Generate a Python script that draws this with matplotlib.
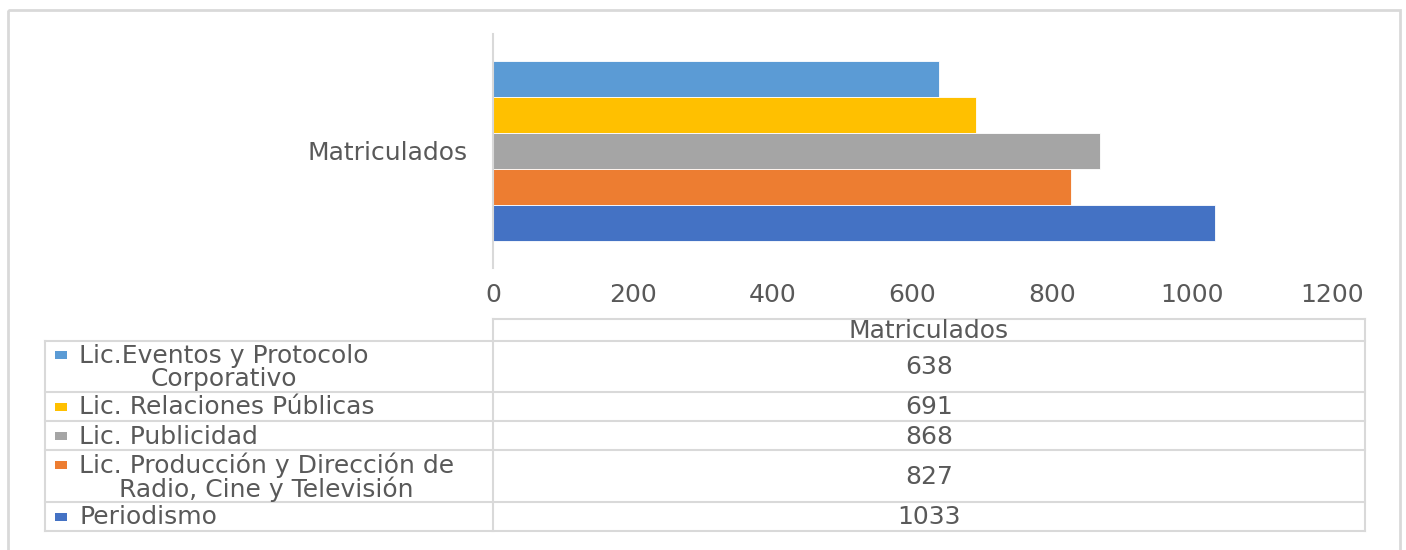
import matplotlib
matplotlib.use("Agg")
import matplotlib.pyplot as plt
from matplotlib.patches import Rectangle
from matplotlib.lines import Line2D

# ---- data ----
series_names = [
    "Lic.Eventos y Protocolo\nCorporativo",
    "Lic. Relaciones Públicas",
    "Lic. Publicidad",
    "Lic. Producción y Dirección de\nRadio, Cine y Televisión",
    "Periodismo",
]
series_values = [638, 691, 868, 827, 1033]
series_colors = ["#5B9BD5", "#FFC000", "#A5A5A5", "#ED7D31", "#4472C4"]
category = "Matriculados"
x_ticks = [0, 200, 400, 600, 800, 1000, 1200]

W, H = 1406, 550
TXT = "#595959"
LINE = "#D9D9D9"
FS_W = 18   # words
FS_N = 18   # numbers
plt.rcParams['font.family'] = ['DejaVu Sans']

fig = plt.figure(figsize=(W / 100, H / 100), dpi=100)

def fx(px):
    return px / W

def fy(py):
    return 1 - py / H

# overlay in pixel coordinates for frame and table
ov = fig.add_axes([0, 0, 1, 1], zorder=0)
ov.set_xlim(0, W)
ov.set_ylim(H, 0)
ov.axis("off")

# chart outer frame
ov.add_patch(Rectangle((8, 10), 1392, 560, fill=False, edgecolor=LINE, lw=2))

# main axes
ax_l, ax_r, ax_t, ax_b = 493, 1365, 34, 268
ax = fig.add_axes([fx(ax_l), fy(ax_b), fx(ax_r - ax_l), (ax_b - ax_t) / H], zorder=1)
ax.patch.set_alpha(0)
n = len(series_values)
bh = 0.2
for i, (v, c) in enumerate(zip(series_values, series_colors)):
    off = (n - 1) / 2 * bh - i * bh
    ax.barh(off, v, height=bh, color=c, edgecolor="white", linewidth=0.6)
ax.set_xlim(0, 1200 * (ax_r - ax_l) / (1332 - 493))
ax.set_ylim(-0.65, 0.65)
ax.set_xticks(x_ticks)
ax.set_xticklabels([str(t) for t in x_ticks])
ax.set_yticks([0])
ax.set_yticklabels([category])
ax.tick_params(axis="x", length=0, pad=11, labelsize=FS_N, labelcolor=TXT)
ax.tick_params(axis="y", length=0, pad=18, labelsize=FS_W, labelcolor=TXT)
for s in ["top", "right", "bottom"]:
    ax.spines[s].set_visible(False)
ax.spines["left"].set_color(LINE)
ax.spines["left"].set_linewidth(1.5)

# ---- data table ----
t_left, t_col, t_right = 45, 493, 1365
t_head_top = 319
row_edges = [341, 392, 421, 450, 502, 531]

def hline(y, x0, x1):
    ov.add_line(Line2D([x0, x1], [y, y], color=LINE, lw=1.5))

def vline(x, y0, y1):
    ov.add_line(Line2D([x, x], [y0, y1], color=LINE, lw=1.5))

hline(t_head_top, t_col, t_right)
for y in row_edges:
    hline(y, t_left, t_right)
vline(t_left, row_edges[0], row_edges[-1])
vline(t_col, t_head_top, row_edges[-1])
vline(t_right, t_head_top, row_edges[-1])

ov.text((t_col + t_right) / 2, (t_head_top + row_edges[0]) / 2 + 1, category,
        ha="center", va="center", fontsize=FS_W, color=TXT)

for i, (name, v, c) in enumerate(zip(series_names, series_values, series_colors)):
    y0, y1 = row_edges[i], row_edges[i + 1]
    yc = (y0 + y1) / 2
    nlines = name.count("\n") + 1
    line_h = 23
    first_y = yc - (nlines - 1) * line_h / 2
    ov.add_patch(Rectangle((55, first_y - 4), 12, 8, color=c, lw=0))
    ov.text(79, yc + 1, name, ha="left", va="center", multialignment="center",
            fontsize=FS_W, color=TXT, linespacing=0.93)
    ov.text((t_col + t_right) / 2, yc + 1, str(v), ha="center", va="center",
            fontsize=FS_N, color=TXT)

fig.savefig("out.png", dpi=100, facecolor="white")
